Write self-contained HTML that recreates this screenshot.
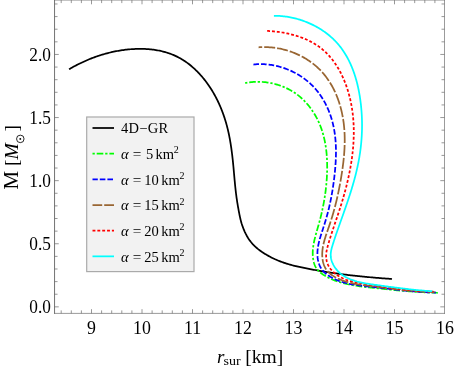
<!DOCTYPE html>
<html><head><meta charset="utf-8"><title>plot</title>
<style>html,body{margin:0;padding:0;background:#fff;}svg{display:block;}text{font-family:"Liberation Serif",serif;fill:#000;}</style></head><body>
<svg width="454" height="369" viewBox="0 0 454 369" style="will-change:transform">
<rect width="454" height="369" fill="#ffffff"/>
<g fill="none" stroke-width="1.75" stroke-linejoin="round">
<path d="M69.06,69.27 L70.11,68.65 L71.18,68.04 L72.25,67.44 L73.32,66.85 L74.40,66.27 L75.49,65.69 L76.58,65.13 L77.67,64.57 L78.77,64.03 L79.86,63.49 L80.96,62.96 L82.06,62.44 L83.16,61.93 L84.25,61.43 L85.35,60.94 L86.45,60.45 L87.56,59.98 L88.66,59.51 L89.77,59.05 L90.88,58.61 L92.00,58.17 L93.12,57.74 L94.24,57.32 L95.36,56.91 L96.49,56.51 L97.62,56.12 L98.76,55.74 L99.89,55.37 L101.03,55.01 L102.18,54.66 L103.33,54.32 L104.48,53.99 L105.63,53.67 L106.79,53.36 L107.95,53.06 L109.11,52.77 L110.28,52.49 L111.45,52.21 L112.62,51.95 L113.79,51.70 L114.97,51.45 L116.15,51.22 L117.33,51.00 L118.52,50.78 L119.70,50.58 L120.89,50.39 L122.09,50.21 L123.28,50.04 L124.48,49.88 L125.68,49.73 L126.88,49.60 L128.08,49.47 L129.29,49.36 L130.49,49.25 L131.70,49.16 L132.91,49.08 L134.13,49.02 L135.34,48.96 L136.56,48.92 L137.77,48.89 L138.99,48.88 L140.21,48.87 L141.43,48.88 L142.65,48.90 L143.87,48.94 L145.08,48.98 L146.30,49.05 L147.52,49.12 L148.73,49.21 L149.94,49.32 L151.15,49.44 L152.36,49.57 L153.56,49.73 L154.76,49.89 L155.95,50.08 L157.14,50.28 L158.33,50.49 L159.51,50.73 L160.69,50.98 L161.86,51.25 L163.03,51.54 L164.19,51.84 L165.34,52.16 L166.49,52.50 L167.63,52.86 L168.76,53.23 L169.89,53.63 L171.00,54.04 L172.11,54.46 L173.21,54.91 L174.30,55.38 L175.38,55.86 L176.45,56.37 L177.52,56.89 L178.57,57.43 L179.61,57.99 L180.64,58.57 L181.66,59.16 L182.67,59.78 L183.67,60.41 L184.65,61.06 L185.63,61.72 L186.60,62.40 L187.56,63.10 L188.51,63.82 L189.45,64.54 L190.37,65.29 L191.29,66.04 L192.20,66.81 L193.10,67.60 L193.99,68.40 L194.86,69.21 L195.73,70.03 L196.59,70.87 L197.44,71.72 L198.27,72.58 L199.10,73.45 L199.92,74.33 L200.72,75.23 L201.52,76.13 L202.31,77.05 L203.08,77.97 L203.85,78.91 L204.60,79.86 L205.34,80.81 L206.08,81.78 L206.80,82.75 L207.51,83.73 L208.21,84.73 L208.91,85.72 L209.59,86.73 L210.26,87.75 L210.92,88.77 L211.57,89.80 L212.20,90.83 L212.83,91.88 L213.45,92.92 L214.05,93.98 L214.65,95.04 L215.23,96.10 L215.81,97.17 L216.37,98.25 L216.92,99.33 L217.46,100.41 L217.99,101.50 L218.51,102.59 L219.02,103.69 L219.51,104.79 L220.00,105.89 L220.47,107.00 L220.94,108.11 L221.39,109.22 L221.84,110.34 L222.27,111.46 L222.69,112.58 L223.10,113.71 L223.51,114.84 L223.90,115.97 L224.28,117.11 L224.66,118.25 L225.02,119.39 L225.37,120.54 L225.72,121.68 L226.05,122.83 L226.38,123.99 L226.70,125.14 L227.01,126.30 L227.31,127.46 L227.60,128.62 L227.88,129.79 L228.16,130.96 L228.42,132.13 L228.68,133.30 L228.93,134.47 L229.17,135.65 L229.40,136.83 L229.63,138.01 L229.85,139.19 L230.06,140.37 L230.27,141.56 L230.46,142.74 L230.66,143.93 L230.84,145.12 L231.02,146.31 L231.20,147.50 L231.37,148.70 L231.53,149.89 L231.69,151.09 L231.85,152.29 L232.00,153.49 L232.15,154.69 L232.29,155.89 L232.43,157.09 L232.57,158.29 L232.70,159.50 L232.83,160.70 L232.95,161.90 L233.07,163.11 L233.19,164.32 L233.31,165.52 L233.42,166.73 L233.53,167.94 L233.64,169.14 L233.75,170.35 L233.86,171.56 L233.96,172.76 L234.07,173.97 L234.17,175.18 L234.28,176.39 L234.39,177.59 L234.50,178.80 L234.60,180.01 L234.72,181.21 L234.83,182.42 L234.95,183.63 L235.06,184.83 L235.19,186.03 L235.31,187.24 L235.44,188.44 L235.57,189.64 L235.71,190.84 L235.85,192.04 L235.99,193.24 L236.14,194.44 L236.30,195.64 L236.46,196.83 L236.62,198.02 L236.79,199.22 L236.97,200.41 L237.15,201.60 L237.34,202.79 L237.53,203.97 L237.73,205.16 L237.93,206.34 L238.14,207.52 L238.35,208.70 L238.56,209.88 L238.78,211.06 L239.00,212.23 L239.23,213.40 L239.46,214.57 L239.70,215.74 L239.94,216.90 L240.20,218.06 L240.47,219.22 L240.75,220.38 L241.05,221.53 L241.37,222.67 L241.71,223.81 L242.08,224.94 L242.46,226.06 L242.86,227.17 L243.28,228.28 L243.72,229.37 L244.18,230.46 L244.65,231.53 L245.15,232.60 L245.66,233.65 L246.20,234.69 L246.75,235.71 L247.33,236.72 L247.93,237.72 L248.55,238.70 L249.21,239.67 L249.88,240.63 L250.59,241.57 L251.33,242.50 L252.11,243.42 L252.92,244.32 L253.76,245.21 L254.65,246.08 L255.56,246.94 L256.52,247.78 L257.50,248.61 L258.51,249.42 L259.55,250.21 L260.62,250.99 L261.70,251.75 L262.80,252.48 L263.91,253.20 L265.03,253.90 L266.16,254.58 L267.29,255.24 L268.42,255.88 L269.55,256.50 L270.67,257.10 L271.80,257.67 L272.92,258.23 L274.04,258.76 L275.15,259.28 L276.27,259.77 L277.39,260.25 L278.50,260.72 L279.62,261.17 L280.75,261.60 L281.88,262.02 L283.01,262.42 L284.15,262.82 L285.29,263.20 L286.44,263.57 L287.59,263.93 L288.75,264.27 L289.92,264.61 L291.08,264.94 L292.26,265.25 L293.43,265.56 L294.61,265.86 L295.80,266.15 L296.98,266.43 L298.17,266.70 L299.36,266.97 L300.55,267.22 L301.75,267.48 L302.95,267.72 L304.15,267.97 L305.34,268.20 L306.55,268.44 L307.75,268.67 L308.95,268.90 L310.15,269.12 L311.35,269.35 L312.55,269.57 L313.76,269.79 L314.96,270.01 L316.16,270.22 L317.36,270.44 L318.56,270.65 L319.76,270.86 L320.96,271.07 L322.16,271.27 L323.35,271.47 L324.55,271.67 L325.75,271.86 L326.94,272.05 L328.14,272.24 L329.34,272.43 L330.53,272.61 L331.73,272.79 L332.92,272.97 L334.11,273.14 L335.31,273.31 L336.50,273.48 L337.70,273.64 L338.89,273.81 L340.08,273.97 L341.28,274.12 L342.47,274.28 L343.66,274.43 L344.86,274.58 L346.05,274.73 L347.25,274.87 L348.44,275.02 L349.64,275.16 L350.83,275.30 L352.03,275.43 L353.23,275.57 L354.42,275.70 L355.62,275.83 L356.82,275.96 L358.02,276.08 L359.22,276.21 L360.42,276.33 L361.62,276.45 L362.82,276.57 L364.02,276.69 L365.23,276.80 L366.43,276.92 L367.64,277.03 L368.85,277.14 L370.05,277.25 L371.26,277.35 L372.47,277.46 L373.68,277.57 L374.90,277.67 L376.11,277.77 L377.33,277.87 L378.54,277.97 L379.76,278.07 L380.98,278.17 L382.20,278.27 L383.43,278.36 L384.65,278.46 L385.88,278.55 L387.10,278.64 L388.33,278.73 L389.56,278.82 L390.79,278.91 L392.02,279.00" stroke="#000000"/>
<path d="M245.07,83.00 L246.23,82.78 L247.39,82.58 L248.56,82.41 L249.74,82.26 L250.92,82.12 L252.11,82.02 L253.30,81.93 L254.50,81.86 L255.70,81.82 L256.90,81.80 L258.10,81.79 L259.30,81.82 L260.51,81.86 L261.71,81.92 L262.92,82.00 L264.13,82.11 L265.33,82.24 L266.53,82.39 L267.74,82.55 L268.93,82.74 L270.13,82.96 L271.32,83.19 L272.51,83.44 L273.70,83.72 L274.88,84.01 L276.05,84.33 L277.22,84.66 L278.38,85.02 L279.53,85.40 L280.68,85.79 L281.82,86.21 L282.95,86.65 L284.07,87.11 L285.19,87.59 L286.29,88.09 L287.38,88.61 L288.46,89.15 L289.53,89.71 L290.59,90.29 L291.64,90.89 L292.67,91.51 L293.69,92.15 L294.69,92.81 L295.68,93.50 L296.66,94.20 L297.62,94.91 L298.57,95.65 L299.50,96.41 L300.42,97.18 L301.32,97.97 L302.21,98.78 L303.08,99.61 L303.94,100.45 L304.78,101.30 L305.60,102.17 L306.41,103.06 L307.21,103.96 L307.99,104.88 L308.75,105.81 L309.50,106.75 L310.23,107.70 L310.95,108.67 L311.65,109.65 L312.33,110.64 L313.00,111.64 L313.65,112.66 L314.29,113.68 L314.91,114.71 L315.51,115.76 L316.10,116.81 L316.67,117.87 L317.22,118.94 L317.75,120.01 L318.27,121.10 L318.77,122.19 L319.26,123.29 L319.73,124.39 L320.18,125.50 L320.61,126.62 L321.03,127.74 L321.43,128.87 L321.82,130.00 L322.19,131.14 L322.55,132.29 L322.89,133.43 L323.22,134.59 L323.53,135.75 L323.83,136.91 L324.11,138.08 L324.38,139.25 L324.63,140.42 L324.87,141.60 L325.10,142.78 L325.32,143.97 L325.52,145.16 L325.71,146.35 L325.88,147.54 L326.05,148.74 L326.20,149.94 L326.34,151.14 L326.47,152.34 L326.58,153.54 L326.69,154.75 L326.78,155.96 L326.87,157.17 L326.94,158.38 L327.00,159.59 L327.06,160.80 L327.10,162.01 L327.13,163.22 L327.15,164.44 L327.17,165.65 L327.17,166.86 L327.17,168.07 L327.15,169.28 L327.13,170.49 L327.10,171.70 L327.06,172.91 L327.02,174.12 L326.97,175.32 L326.90,176.53 L326.84,177.73 L326.76,178.93 L326.68,180.13 L326.59,181.32 L326.49,182.52 L326.39,183.71 L326.28,184.90 L326.16,186.09 L326.03,187.28 L325.90,188.46 L325.76,189.65 L325.62,190.83 L325.47,192.02 L325.31,193.20 L325.14,194.38 L324.97,195.56 L324.79,196.74 L324.60,197.92 L324.41,199.10 L324.21,200.27 L324.01,201.45 L323.79,202.62 L323.57,203.80 L323.35,204.97 L323.12,206.15 L322.88,207.32 L322.64,208.50 L322.38,209.67 L322.13,210.84 L321.86,212.01 L321.59,213.19 L321.32,214.36 L321.04,215.53 L320.75,216.71 L320.46,217.88 L320.16,219.06 L319.85,220.23 L319.54,221.40 L319.22,222.58 L318.89,223.76 L318.57,224.93 L318.23,226.11 L317.89,227.29 L317.55,228.47 L317.21,229.64 L316.87,230.82 L316.53,232.00 L316.20,233.18 L315.87,234.36 L315.55,235.55 L315.24,236.73 L314.94,237.91 L314.65,239.09 L314.37,240.27 L314.12,241.45 L313.87,242.64 L313.65,243.82 L313.45,245.00 L313.27,246.19 L313.11,247.37 L312.98,248.55 L312.87,249.73 L312.79,250.92 L312.75,252.10 L312.73,253.28 L312.75,254.46 L312.80,255.64 L312.89,256.83 L313.02,258.01 L313.18,259.19 L313.39,260.37 L313.64,261.55 L313.94,262.72 L314.29,263.87 L314.70,265.00 L315.17,266.10 L315.70,267.17 L316.31,268.19 L317.00,269.15 L317.75,270.07 L318.57,270.94 L319.45,271.77 L320.37,272.55 L321.32,273.30 L322.31,274.02 L323.32,274.70 L324.35,275.36 L325.39,275.99 L326.43,276.59 L327.49,277.18 L328.55,277.74 L329.63,278.27 L330.71,278.79 L331.80,279.28 L332.90,279.75 L334.01,280.20 L335.12,280.63 L336.24,281.04 L337.37,281.44 L338.51,281.81 L339.65,282.17 L340.80,282.52 L341.95,282.84 L343.11,283.15 L344.28,283.45 L345.45,283.73 L346.62,284.00 L347.80,284.26 L348.98,284.50 L350.17,284.73 L351.36,284.96 L352.55,285.17 L353.75,285.37 L354.95,285.56 L356.15,285.75 L357.35,285.93 L358.56,286.10 L359.77,286.26 L360.97,286.42 L362.18,286.57 L363.39,286.72 L364.60,286.86 L365.81,287.01 L367.02,287.14 L368.23,287.28 L369.44,287.42 L370.64,287.55 L371.85,287.68 L373.05,287.82 L374.26,287.95 L375.46,288.08 L376.66,288.21 L377.86,288.35 L379.06,288.48 L380.26,288.61 L381.45,288.73 L382.65,288.86 L383.85,288.99 L385.04,289.11 L386.24,289.24 L387.43,289.36 L388.62,289.48 L389.82,289.61 L391.01,289.72 L392.20,289.84 L393.39,289.96 L394.59,290.08 L395.78,290.19 L396.97,290.30 L398.16,290.41 L399.35,290.52 L400.54,290.63 L401.73,290.73 L402.93,290.84 L404.12,290.94 L405.31,291.04 L406.50,291.13 L407.70,291.23 L408.89,291.32 L410.09,291.41 L411.28,291.50 L412.48,291.59 L413.67,291.67 L414.87,291.76 L416.07,291.83 L417.27,291.91 L418.47,291.99 L419.67,292.06 L420.87,292.13 L422.07,292.19 L423.27,292.25 L424.48,292.31 L425.69,292.37 L426.89,292.43 L428.10,292.48 L429.31,292.53 L430.53,292.57 L431.74,292.61 L432.95,292.65 L434.17,292.69 L435.39,292.72 L436.61,292.75 L437.83,292.77" stroke="#00ff00" stroke-dasharray="2.3 1.9 6.6 1.9" stroke-dashoffset="0"/>
<path d="M253.43,64.53 L254.62,64.41 L255.81,64.31 L257.00,64.24 L258.20,64.18 L259.39,64.15 L260.59,64.14 L261.79,64.15 L262.99,64.18 L264.19,64.23 L265.39,64.31 L266.59,64.40 L267.79,64.52 L268.98,64.65 L270.18,64.80 L271.37,64.98 L272.56,65.17 L273.75,65.39 L274.93,65.62 L276.12,65.88 L277.29,66.15 L278.47,66.44 L279.64,66.75 L280.80,67.08 L281.96,67.43 L283.12,67.80 L284.27,68.19 L285.41,68.59 L286.55,69.02 L287.68,69.46 L288.80,69.92 L289.91,70.39 L291.02,70.89 L292.12,71.40 L293.21,71.93 L294.30,72.48 L295.37,73.04 L296.43,73.62 L297.49,74.22 L298.53,74.84 L299.56,75.47 L300.59,76.12 L301.60,76.78 L302.60,77.46 L303.58,78.16 L304.56,78.87 L305.52,79.60 L306.47,80.34 L307.41,81.10 L308.33,81.88 L309.24,82.67 L310.14,83.47 L311.02,84.29 L311.88,85.13 L312.73,85.98 L313.57,86.84 L314.39,87.72 L315.19,88.61 L315.98,89.52 L316.75,90.44 L317.50,91.37 L318.24,92.31 L318.97,93.27 L319.67,94.24 L320.37,95.22 L321.04,96.22 L321.70,97.22 L322.35,98.23 L322.98,99.26 L323.59,100.30 L324.19,101.34 L324.77,102.39 L325.34,103.46 L325.89,104.53 L326.42,105.61 L326.94,106.70 L327.45,107.80 L327.94,108.90 L328.41,110.01 L328.87,111.13 L329.31,112.26 L329.74,113.39 L330.15,114.52 L330.55,115.66 L330.93,116.81 L331.30,117.96 L331.65,119.12 L331.99,120.28 L332.31,121.44 L332.62,122.61 L332.91,123.78 L333.18,124.96 L333.44,126.13 L333.69,127.31 L333.92,128.50 L334.14,129.68 L334.35,130.87 L334.54,132.06 L334.72,133.25 L334.88,134.44 L335.04,135.64 L335.18,136.83 L335.30,138.03 L335.42,139.23 L335.52,140.43 L335.62,141.64 L335.70,142.84 L335.77,144.05 L335.83,145.25 L335.87,146.46 L335.91,147.67 L335.94,148.88 L335.96,150.09 L335.97,151.30 L335.97,152.51 L335.96,153.72 L335.94,154.93 L335.91,156.14 L335.88,157.35 L335.83,158.56 L335.78,159.77 L335.72,160.98 L335.66,162.19 L335.58,163.40 L335.50,164.61 L335.42,165.81 L335.32,167.02 L335.22,168.22 L335.12,169.43 L335.01,170.63 L334.89,171.83 L334.77,173.03 L334.64,174.23 L334.51,175.42 L334.38,176.62 L334.24,177.81 L334.09,179.00 L333.94,180.19 L333.79,181.37 L333.63,182.56 L333.47,183.74 L333.30,184.92 L333.13,186.10 L332.96,187.28 L332.78,188.46 L332.59,189.64 L332.40,190.81 L332.20,191.98 L332.00,193.16 L331.79,194.33 L331.58,195.50 L331.36,196.67 L331.14,197.84 L330.91,199.01 L330.68,200.18 L330.44,201.35 L330.19,202.52 L329.94,203.68 L329.68,204.85 L329.42,206.02 L329.15,207.18 L328.87,208.35 L328.59,209.52 L328.30,210.68 L328.01,211.85 L327.71,213.02 L327.40,214.19 L327.08,215.35 L326.76,216.52 L326.43,217.69 L326.10,218.86 L325.75,220.03 L325.40,221.20 L325.05,222.37 L324.68,223.55 L324.31,224.72 L323.93,225.90 L323.55,227.07 L323.16,228.25 L322.77,229.43 L322.39,230.61 L322.00,231.78 L321.62,232.96 L321.24,234.14 L320.87,235.32 L320.51,236.50 L320.16,237.68 L319.82,238.86 L319.50,240.04 L319.19,241.22 L318.90,242.40 L318.63,243.58 L318.39,244.76 L318.16,245.93 L317.97,247.11 L317.80,248.29 L317.65,249.46 L317.54,250.63 L317.46,251.80 L317.42,252.98 L317.41,254.14 L317.44,255.31 L317.51,256.48 L317.62,257.64 L317.77,258.81 L317.97,259.97 L318.22,261.12 L318.51,262.28 L318.85,263.42 L319.25,264.54 L319.70,265.65 L320.21,266.73 L320.77,267.77 L321.40,268.78 L322.08,269.75 L322.82,270.68 L323.62,271.57 L324.47,272.42 L325.35,273.22 L326.28,274.00 L327.24,274.73 L328.23,275.43 L329.24,276.10 L330.27,276.74 L331.31,277.35 L332.37,277.93 L333.43,278.48 L334.51,279.01 L335.60,279.51 L336.70,279.98 L337.80,280.43 L338.92,280.86 L340.05,281.26 L341.18,281.65 L342.33,282.01 L343.48,282.35 L344.64,282.67 L345.80,282.98 L346.98,283.27 L348.16,283.54 L349.34,283.80 L350.53,284.04 L351.72,284.27 L352.92,284.48 L354.12,284.69 L355.33,284.88 L356.54,285.06 L357.75,285.24 L358.96,285.41 L360.18,285.57 L361.40,285.72 L362.61,285.87 L363.83,286.01 L365.05,286.15 L366.27,286.28 L367.48,286.42 L368.70,286.55 L369.91,286.69 L371.12,286.82 L372.33,286.96 L373.54,287.09 L374.74,287.23 L375.95,287.36 L377.15,287.50 L378.35,287.64 L379.55,287.78 L380.74,287.92 L381.94,288.06 L383.13,288.19 L384.33,288.33 L385.52,288.47 L386.71,288.61 L387.90,288.74 L389.09,288.88 L390.28,289.02 L391.46,289.15 L392.65,289.28 L393.84,289.42 L395.02,289.55 L396.21,289.68 L397.40,289.81 L398.58,289.93 L399.77,290.06 L400.95,290.18 L402.14,290.31 L403.33,290.43 L404.51,290.54 L405.70,290.66 L406.89,290.77 L408.08,290.89 L409.27,290.99 L410.46,291.10 L411.65,291.20 L412.85,291.30 L414.04,291.40 L415.24,291.50 L416.43,291.59 L417.63,291.68 L418.83,291.76 L420.03,291.85 L421.24,291.92 L422.44,292.00 L423.65,292.07 L424.86,292.14 L426.07,292.20 L427.28,292.26 L428.50,292.31 L429.72,292.36 L430.94,292.41 L432.16,292.45 L433.39,292.49 L434.62,292.52 L435.85,292.55" stroke="#0000ff" stroke-dasharray="5.6 2" stroke-dashoffset="0"/>
<path d="M258.60,47.32 L259.80,47.24 L261.00,47.18 L262.20,47.13 L263.40,47.11 L264.60,47.10 L265.81,47.11 L267.01,47.15 L268.22,47.20 L269.42,47.27 L270.63,47.36 L271.83,47.46 L273.03,47.59 L274.23,47.73 L275.43,47.90 L276.63,48.08 L277.82,48.28 L279.02,48.49 L280.21,48.73 L281.39,48.98 L282.57,49.25 L283.75,49.54 L284.92,49.84 L286.09,50.17 L287.26,50.51 L288.42,50.86 L289.57,51.24 L290.72,51.63 L291.86,52.04 L293.00,52.47 L294.13,52.91 L295.25,53.37 L296.36,53.84 L297.47,54.34 L298.57,54.84 L299.66,55.37 L300.74,55.91 L301.81,56.47 L302.88,57.04 L303.93,57.63 L304.98,58.23 L306.01,58.85 L307.04,59.49 L308.05,60.14 L309.05,60.81 L310.04,61.49 L311.02,62.19 L311.99,62.90 L312.95,63.63 L313.89,64.37 L314.82,65.13 L315.73,65.90 L316.64,66.69 L317.53,67.49 L318.40,68.30 L319.26,69.13 L320.11,69.98 L320.94,70.84 L321.76,71.71 L322.56,72.59 L323.34,73.49 L324.11,74.41 L324.86,75.33 L325.60,76.27 L326.32,77.22 L327.03,78.19 L327.73,79.16 L328.40,80.15 L329.07,81.15 L329.71,82.16 L330.35,83.18 L330.97,84.21 L331.57,85.24 L332.16,86.29 L332.73,87.35 L333.29,88.42 L333.84,89.50 L334.37,90.58 L334.89,91.68 L335.39,92.78 L335.88,93.89 L336.35,95.00 L336.82,96.12 L337.26,97.25 L337.69,98.39 L338.11,99.53 L338.52,100.68 L338.91,101.83 L339.29,102.99 L339.65,104.16 L340.00,105.32 L340.34,106.50 L340.67,107.67 L340.98,108.85 L341.27,110.04 L341.56,111.22 L341.83,112.41 L342.09,113.60 L342.33,114.80 L342.57,115.99 L342.79,117.19 L342.99,118.39 L343.19,119.59 L343.37,120.79 L343.54,121.99 L343.70,123.19 L343.84,124.39 L343.98,125.59 L344.10,126.79 L344.21,128.00 L344.31,129.20 L344.39,130.40 L344.47,131.60 L344.54,132.81 L344.59,134.01 L344.64,135.21 L344.67,136.41 L344.69,137.62 L344.71,138.82 L344.71,140.02 L344.71,141.22 L344.70,142.42 L344.68,143.63 L344.64,144.83 L344.60,146.03 L344.56,147.23 L344.50,148.43 L344.44,149.63 L344.36,150.83 L344.29,152.03 L344.20,153.23 L344.10,154.43 L344.00,155.63 L343.89,156.82 L343.78,158.02 L343.66,159.22 L343.53,160.41 L343.40,161.61 L343.26,162.80 L343.11,164.00 L342.96,165.19 L342.81,166.38 L342.65,167.57 L342.48,168.76 L342.31,169.95 L342.14,171.14 L341.96,172.33 L341.78,173.51 L341.59,174.70 L341.40,175.88 L341.21,177.07 L341.01,178.25 L340.81,179.43 L340.61,180.61 L340.40,181.79 L340.19,182.97 L339.97,184.15 L339.75,185.32 L339.53,186.50 L339.30,187.67 L339.07,188.85 L338.84,190.02 L338.60,191.19 L338.35,192.37 L338.10,193.54 L337.85,194.71 L337.60,195.88 L337.33,197.05 L337.07,198.22 L336.80,199.39 L336.52,200.56 L336.24,201.72 L335.95,202.89 L335.66,204.06 L335.37,205.22 L335.07,206.39 L334.76,207.56 L334.45,208.72 L334.13,209.89 L333.81,211.06 L333.48,212.22 L333.15,213.39 L332.81,214.55 L332.46,215.72 L332.11,216.88 L331.75,218.05 L331.39,219.21 L331.02,220.38 L330.64,221.55 L330.26,222.71 L329.87,223.88 L329.48,225.05 L329.08,226.21 L328.68,227.38 L328.27,228.55 L327.86,229.72 L327.46,230.88 L327.06,232.05 L326.66,233.22 L326.27,234.39 L325.88,235.56 L325.51,236.73 L325.15,237.89 L324.80,239.06 L324.46,240.23 L324.14,241.40 L323.84,242.57 L323.56,243.74 L323.30,244.91 L323.07,246.08 L322.86,247.25 L322.67,248.42 L322.52,249.58 L322.39,250.75 L322.30,251.92 L322.24,253.09 L322.21,254.26 L322.23,255.43 L322.28,256.60 L322.37,257.77 L322.50,258.93 L322.67,260.10 L322.90,261.27 L323.17,262.43 L323.48,263.58 L323.86,264.72 L324.28,265.83 L324.77,266.92 L325.31,267.98 L325.91,269.00 L326.58,269.98 L327.32,270.91 L328.11,271.80 L328.96,272.64 L329.85,273.45 L330.79,274.21 L331.76,274.94 L332.77,275.63 L333.80,276.28 L334.85,276.90 L335.91,277.49 L336.98,278.06 L338.06,278.59 L339.16,279.09 L340.26,279.57 L341.38,280.02 L342.50,280.45 L343.63,280.85 L344.77,281.24 L345.92,281.60 L347.07,281.94 L348.24,282.26 L349.41,282.56 L350.58,282.84 L351.76,283.11 L352.95,283.36 L354.14,283.60 L355.33,283.83 L356.53,284.04 L357.73,284.25 L358.93,284.44 L360.14,284.62 L361.35,284.80 L362.56,284.97 L363.77,285.13 L364.98,285.29 L366.19,285.45 L367.40,285.60 L368.61,285.75 L369.82,285.90 L371.03,286.05 L372.23,286.21 L373.44,286.36 L374.64,286.51 L375.84,286.67 L377.04,286.82 L378.23,286.97 L379.43,287.13 L380.63,287.28 L381.82,287.44 L383.01,287.59 L384.21,287.74 L385.40,287.90 L386.59,288.05 L387.78,288.20 L388.97,288.35 L390.16,288.50 L391.35,288.64 L392.53,288.79 L393.72,288.93 L394.91,289.08 L396.10,289.22 L397.28,289.36 L398.47,289.49 L399.66,289.63 L400.85,289.76 L402.04,289.89 L403.23,290.02 L404.41,290.15 L405.60,290.27 L406.79,290.39 L407.99,290.51 L409.18,290.62 L410.37,290.73 L411.56,290.84 L412.76,290.94 L413.96,291.04 L415.15,291.14 L416.35,291.23 L417.55,291.32 L418.75,291.40 L419.96,291.48 L421.16,291.56 L422.37,291.63 L423.58,291.70 L424.79,291.76 L426.00,291.81 L427.21,291.87 L428.43,291.91 L429.65,291.95 L430.87,291.99 L432.09,292.02 L433.32,292.05 L434.54,292.06" stroke="#996633" stroke-dasharray="11 2" stroke-dashoffset="7.4"/>
<path d="M267.15,30.94 L268.27,30.99 L269.40,31.06 L270.55,31.13 L271.69,31.21 L272.85,31.31 L274.01,31.42 L275.18,31.54 L276.35,31.67 L277.53,31.81 L278.72,31.97 L279.90,32.13 L281.09,32.31 L282.29,32.51 L283.48,32.71 L284.68,32.93 L285.87,33.17 L287.07,33.41 L288.27,33.67 L289.47,33.95 L290.66,34.23 L291.86,34.53 L293.05,34.85 L294.24,35.18 L295.42,35.52 L296.60,35.88 L297.78,36.26 L298.95,36.65 L300.12,37.05 L301.28,37.47 L302.43,37.90 L303.58,38.35 L304.72,38.82 L305.85,39.30 L306.97,39.80 L308.08,40.31 L309.19,40.84 L310.28,41.39 L311.36,41.95 L312.43,42.53 L313.48,43.13 L314.53,43.75 L315.56,44.38 L316.58,45.03 L317.58,45.69 L318.57,46.38 L319.54,47.08 L320.49,47.80 L321.43,48.54 L322.36,49.29 L323.27,50.07 L324.16,50.86 L325.04,51.66 L325.90,52.48 L326.75,53.32 L327.58,54.17 L328.40,55.03 L329.20,55.91 L329.99,56.81 L330.77,57.72 L331.52,58.64 L332.27,59.57 L333.00,60.52 L333.71,61.48 L334.41,62.45 L335.10,63.43 L335.77,64.43 L336.43,65.43 L337.07,66.45 L337.70,67.48 L338.32,68.51 L338.92,69.56 L339.51,70.61 L340.09,71.67 L340.65,72.75 L341.20,73.83 L341.74,74.91 L342.26,76.01 L342.77,77.11 L343.27,78.22 L343.75,79.33 L344.23,80.45 L344.68,81.58 L345.13,82.71 L345.57,83.85 L345.99,84.99 L346.40,86.14 L346.79,87.28 L347.18,88.44 L347.55,89.59 L347.91,90.75 L348.26,91.91 L348.60,93.08 L348.93,94.24 L349.24,95.41 L349.55,96.58 L349.84,97.75 L350.12,98.92 L350.39,100.10 L350.65,101.27 L350.89,102.45 L351.13,103.63 L351.36,104.81 L351.57,105.99 L351.78,107.17 L351.97,108.36 L352.15,109.54 L352.33,110.73 L352.49,111.92 L352.64,113.11 L352.78,114.30 L352.92,115.49 L353.04,116.69 L353.15,117.88 L353.26,119.08 L353.35,120.27 L353.43,121.47 L353.51,122.67 L353.58,123.87 L353.63,125.06 L353.68,126.26 L353.72,127.47 L353.75,128.67 L353.77,129.87 L353.78,131.07 L353.78,132.27 L353.77,133.48 L353.76,134.68 L353.74,135.89 L353.71,137.09 L353.67,138.29 L353.62,139.50 L353.56,140.70 L353.50,141.91 L353.43,143.12 L353.35,144.32 L353.26,145.53 L353.17,146.73 L353.07,147.94 L352.96,149.14 L352.84,150.35 L352.72,151.55 L352.58,152.76 L352.45,153.96 L352.30,155.16 L352.15,156.37 L351.99,157.57 L351.82,158.77 L351.65,159.97 L351.47,161.17 L351.29,162.37 L351.10,163.57 L350.90,164.77 L350.70,165.97 L350.49,167.17 L350.27,168.37 L350.05,169.56 L349.82,170.76 L349.59,171.95 L349.35,173.14 L349.11,174.33 L348.86,175.53 L348.60,176.71 L348.34,177.90 L348.08,179.09 L347.81,180.28 L347.53,181.46 L347.25,182.64 L346.97,183.82 L346.68,185.00 L346.38,186.18 L346.08,187.36 L345.78,188.53 L345.47,189.71 L345.16,190.88 L344.85,192.05 L344.53,193.22 L344.20,194.38 L343.87,195.55 L343.54,196.71 L343.21,197.87 L342.87,199.03 L342.53,200.19 L342.18,201.34 L341.83,202.49 L341.48,203.64 L341.13,204.79 L340.77,205.94 L340.41,207.08 L340.04,208.22 L339.68,209.36 L339.31,210.49 L338.93,211.63 L338.56,212.76 L338.18,213.89 L337.81,215.02 L337.43,216.15 L337.05,217.27 L336.67,218.40 L336.28,219.53 L335.90,220.65 L335.52,221.78 L335.13,222.91 L334.75,224.03 L334.37,225.16 L333.98,226.29 L333.60,227.43 L333.22,228.56 L332.84,229.69 L332.46,230.83 L332.08,231.97 L331.71,233.12 L331.34,234.26 L330.97,235.41 L330.60,236.56 L330.23,237.72 L329.87,238.88 L329.51,240.05 L329.15,241.22 L328.80,242.39 L328.45,243.57 L328.11,244.76 L327.77,245.95 L327.45,247.15 L327.15,248.35 L326.88,249.55 L326.64,250.75 L326.43,251.96 L326.28,253.17 L326.17,254.37 L326.12,255.58 L326.13,256.79 L326.21,257.99 L326.34,259.18 L326.54,260.35 L326.81,261.52 L327.15,262.66 L327.55,263.78 L328.03,264.87 L328.57,265.94 L329.18,266.97 L329.85,267.98 L330.58,268.95 L331.35,269.88 L332.17,270.78 L333.02,271.65 L333.89,272.48 L334.79,273.27 L335.72,274.02 L336.66,274.74 L337.63,275.42 L338.61,276.07 L339.62,276.68 L340.64,277.26 L341.69,277.81 L342.74,278.33 L343.82,278.81 L344.91,279.27 L346.01,279.70 L347.13,280.10 L348.26,280.47 L349.40,280.82 L350.55,281.15 L351.72,281.46 L352.89,281.75 L354.07,282.02 L355.26,282.28 L356.46,282.53 L357.66,282.77 L358.87,283.00 L360.08,283.21 L361.29,283.43 L362.51,283.63 L363.73,283.83 L364.95,284.03 L366.18,284.22 L367.40,284.41 L368.62,284.59 L369.84,284.78 L371.05,284.96 L372.27,285.15 L373.47,285.33 L374.68,285.52 L375.89,285.70 L377.09,285.88 L378.29,286.06 L379.48,286.24 L380.68,286.42 L381.87,286.60 L383.06,286.77 L384.25,286.94 L385.44,287.11 L386.63,287.28 L387.81,287.45 L389.00,287.61 L390.18,287.77 L391.37,287.93 L392.55,288.09 L393.73,288.24 L394.91,288.40 L396.09,288.55 L397.28,288.70 L398.46,288.84 L399.64,288.98 L400.82,289.12 L402.00,289.26 L403.19,289.40 L404.37,289.53 L405.55,289.66 L406.74,289.78 L407.93,289.91 L409.11,290.03 L410.30,290.15 L411.50,290.26 L412.69,290.37 L413.88,290.48 L415.08,290.58 L416.28,290.68 L417.48,290.77 L418.68,290.86 L419.89,290.95 L421.10,291.03 L422.31,291.11 L423.53,291.18 L424.75,291.25 L425.97,291.31 L427.19,291.37 L428.42,291.43 L429.65,291.48 L430.89,291.53 L432.13,291.57 L433.37,291.61" stroke="#ff0000" stroke-dasharray="2.9 1.95" stroke-dashoffset="0"/>
<path d="M273.90,15.86 L275.06,15.85 L276.23,15.86 L277.40,15.88 L278.57,15.92 L279.75,15.98 L280.93,16.06 L282.11,16.16 L283.29,16.27 L284.47,16.41 L285.66,16.56 L286.84,16.72 L288.02,16.91 L289.21,17.11 L290.39,17.33 L291.57,17.57 L292.75,17.82 L293.93,18.09 L295.11,18.38 L296.28,18.68 L297.46,19.00 L298.62,19.34 L299.79,19.69 L300.95,20.06 L302.11,20.44 L303.26,20.85 L304.41,21.26 L305.55,21.70 L306.69,22.14 L307.82,22.61 L308.94,23.09 L310.06,23.58 L311.17,24.09 L312.28,24.62 L313.38,25.16 L314.46,25.72 L315.54,26.29 L316.62,26.87 L317.68,27.47 L318.73,28.09 L319.78,28.71 L320.81,29.36 L321.83,30.01 L322.85,30.69 L323.85,31.37 L324.84,32.07 L325.81,32.78 L326.78,33.51 L327.73,34.25 L328.68,35.00 L329.60,35.77 L330.52,36.55 L331.42,37.34 L332.30,38.15 L333.17,38.97 L334.03,39.80 L334.87,40.64 L335.70,41.50 L336.51,42.37 L337.30,43.25 L338.08,44.14 L338.84,45.05 L339.59,45.97 L340.32,46.89 L341.04,47.83 L341.74,48.78 L342.43,49.74 L343.10,50.72 L343.76,51.70 L344.41,52.69 L345.04,53.69 L345.65,54.70 L346.26,55.72 L346.85,56.75 L347.42,57.79 L347.98,58.83 L348.53,59.89 L349.06,60.95 L349.59,62.02 L350.09,63.10 L350.59,64.19 L351.07,65.28 L351.54,66.38 L352.00,67.49 L352.45,68.60 L352.88,69.72 L353.31,70.85 L353.72,71.98 L354.11,73.12 L354.50,74.26 L354.88,75.41 L355.24,76.56 L355.59,77.72 L355.94,78.88 L356.27,80.05 L356.59,81.22 L356.90,82.40 L357.20,83.57 L357.49,84.76 L357.76,85.94 L358.03,87.13 L358.29,88.32 L358.54,89.51 L358.78,90.71 L359.01,91.91 L359.23,93.11 L359.44,94.31 L359.65,95.51 L359.84,96.72 L360.02,97.92 L360.20,99.13 L360.37,100.33 L360.53,101.54 L360.68,102.75 L360.82,103.95 L360.96,105.16 L361.08,106.36 L361.20,107.57 L361.31,108.77 L361.41,109.98 L361.51,111.18 L361.60,112.39 L361.68,113.59 L361.75,114.80 L361.81,116.00 L361.87,117.20 L361.91,118.40 L361.95,119.60 L361.99,120.81 L362.01,122.01 L362.03,123.21 L362.04,124.41 L362.04,125.61 L362.03,126.81 L362.02,128.00 L362.00,129.20 L361.97,130.40 L361.93,131.60 L361.88,132.79 L361.83,133.99 L361.77,135.19 L361.71,136.38 L361.63,137.58 L361.55,138.77 L361.46,139.96 L361.36,141.16 L361.26,142.35 L361.15,143.54 L361.03,144.73 L360.90,145.92 L360.77,147.11 L360.63,148.30 L360.48,149.49 L360.33,150.67 L360.16,151.86 L359.99,153.05 L359.82,154.23 L359.63,155.42 L359.44,156.60 L359.24,157.78 L359.04,158.97 L358.82,160.15 L358.60,161.33 L358.38,162.51 L358.14,163.69 L357.90,164.87 L357.66,166.04 L357.40,167.22 L357.14,168.40 L356.87,169.57 L356.60,170.75 L356.32,171.92 L356.04,173.09 L355.75,174.26 L355.45,175.43 L355.15,176.60 L354.84,177.77 L354.53,178.94 L354.21,180.11 L353.89,181.27 L353.56,182.44 L353.23,183.60 L352.89,184.76 L352.55,185.92 L352.21,187.08 L351.86,188.24 L351.51,189.40 L351.15,190.56 L350.79,191.71 L350.43,192.87 L350.06,194.02 L349.69,195.17 L349.32,196.32 L348.95,197.47 L348.57,198.62 L348.19,199.77 L347.81,200.91 L347.42,202.06 L347.04,203.20 L346.65,204.34 L346.26,205.48 L345.86,206.62 L345.47,207.76 L345.08,208.89 L344.68,210.03 L344.28,211.16 L343.88,212.29 L343.49,213.42 L343.09,214.55 L342.69,215.68 L342.29,216.80 L341.89,217.93 L341.48,219.05 L341.08,220.17 L340.68,221.30 L340.28,222.42 L339.88,223.54 L339.49,224.67 L339.09,225.79 L338.69,226.92 L338.29,228.04 L337.90,229.17 L337.51,230.30 L337.11,231.43 L336.72,232.56 L336.33,233.70 L335.95,234.84 L335.56,235.98 L335.18,237.12 L334.80,238.27 L334.42,239.42 L334.04,240.57 L333.67,241.73 L333.30,242.89 L332.93,244.06 L332.56,245.23 L332.21,246.41 L331.87,247.59 L331.57,248.77 L331.29,249.95 L331.06,251.13 L330.88,252.31 L330.76,253.49 L330.71,254.66 L330.74,255.83 L330.83,257.00 L331.00,258.16 L331.24,259.30 L331.55,260.44 L331.92,261.57 L332.35,262.68 L332.83,263.77 L333.38,264.85 L333.97,265.91 L334.61,266.94 L335.30,267.94 L336.03,268.92 L336.80,269.87 L337.61,270.79 L338.45,271.67 L339.32,272.51 L340.22,273.32 L341.15,274.08 L342.10,274.80 L343.07,275.48 L344.06,276.12 L345.06,276.72 L346.08,277.28 L347.11,277.81 L348.16,278.32 L349.23,278.79 L350.30,279.24 L351.39,279.67 L352.50,280.07 L353.61,280.45 L354.73,280.82 L355.87,281.16 L357.01,281.49 L358.17,281.79 L359.33,282.08 L360.49,282.36 L361.67,282.62 L362.85,282.86 L364.04,283.10 L365.23,283.32 L366.42,283.52 L367.62,283.72 L368.82,283.91 L370.03,284.10 L371.23,284.28 L372.44,284.45 L373.65,284.62 L374.85,284.79 L376.06,284.95 L377.26,285.12 L378.46,285.29 L379.66,285.45 L380.86,285.62 L382.06,285.78 L383.26,285.95 L384.45,286.11 L385.65,286.27 L386.84,286.44 L388.04,286.60 L389.23,286.76 L390.42,286.92 L391.61,287.08 L392.81,287.23 L394.00,287.39 L395.19,287.54 L396.38,287.69 L397.57,287.85 L398.76,287.99 L399.95,288.14 L401.14,288.29 L402.33,288.43 L403.52,288.58 L404.71,288.72 L405.90,288.86 L407.09,288.99 L408.29,289.13 L409.48,289.26 L410.67,289.39 L411.87,289.52 L413.06,289.65 L414.25,289.77 L415.45,289.90 L416.65,290.02 L417.84,290.14 L419.04,290.25 L420.24,290.36 L421.44,290.47 L422.65,290.58 L423.85,290.68 L425.06,290.78 L426.26,290.88 L427.47,290.97 L428.68,291.06 L429.89,291.14 L431.11,291.22 L432.32,291.30" stroke="#00ffff"/>
</g>
<path d="M61.20,313.4 v-3.0 M61.20,0.1 v3.0 M71.30,313.4 v-3.0 M71.30,0.1 v3.0 M81.40,313.4 v-3.0 M81.40,0.1 v3.0 M91.50,313.4 v-4.2 M91.50,0.1 v4.2 M101.60,313.4 v-3.0 M101.60,0.1 v3.0 M111.70,313.4 v-3.0 M111.70,0.1 v3.0 M121.80,313.4 v-3.0 M121.80,0.1 v3.0 M131.90,313.4 v-3.0 M131.90,0.1 v3.0 M142.00,313.4 v-4.2 M142.00,0.1 v4.2 M152.10,313.4 v-3.0 M152.10,0.1 v3.0 M162.20,313.4 v-3.0 M162.20,0.1 v3.0 M172.30,313.4 v-3.0 M172.30,0.1 v3.0 M182.40,313.4 v-3.0 M182.40,0.1 v3.0 M192.50,313.4 v-4.2 M192.50,0.1 v4.2 M202.60,313.4 v-3.0 M202.60,0.1 v3.0 M212.70,313.4 v-3.0 M212.70,0.1 v3.0 M222.80,313.4 v-3.0 M222.80,0.1 v3.0 M232.90,313.4 v-3.0 M232.90,0.1 v3.0 M243.00,313.4 v-4.2 M243.00,0.1 v4.2 M253.10,313.4 v-3.0 M253.10,0.1 v3.0 M263.20,313.4 v-3.0 M263.20,0.1 v3.0 M273.30,313.4 v-3.0 M273.30,0.1 v3.0 M283.40,313.4 v-3.0 M283.40,0.1 v3.0 M293.50,313.4 v-4.2 M293.50,0.1 v4.2 M303.60,313.4 v-3.0 M303.60,0.1 v3.0 M313.70,313.4 v-3.0 M313.70,0.1 v3.0 M323.80,313.4 v-3.0 M323.80,0.1 v3.0 M333.90,313.4 v-3.0 M333.90,0.1 v3.0 M344.00,313.4 v-4.2 M344.00,0.1 v4.2 M354.10,313.4 v-3.0 M354.10,0.1 v3.0 M364.20,313.4 v-3.0 M364.20,0.1 v3.0 M374.30,313.4 v-3.0 M374.30,0.1 v3.0 M384.40,313.4 v-3.0 M384.40,0.1 v3.0 M394.50,313.4 v-4.2 M394.50,0.1 v4.2 M404.60,313.4 v-3.0 M404.60,0.1 v3.0 M414.70,313.4 v-3.0 M414.70,0.1 v3.0 M424.80,313.4 v-3.0 M424.80,0.1 v3.0 M434.90,313.4 v-3.0 M434.90,0.1 v3.0 M54.55,306.85 h4.2 M444.5,306.85 h-4.2 M54.55,294.23 h3.0 M444.5,294.23 h-3.0 M54.55,281.61 h3.0 M444.5,281.61 h-3.0 M54.55,268.99 h3.0 M444.5,268.99 h-3.0 M54.55,256.37 h3.0 M444.5,256.37 h-3.0 M54.55,243.75 h4.2 M444.5,243.75 h-4.2 M54.55,231.13 h3.0 M444.5,231.13 h-3.0 M54.55,218.51 h3.0 M444.5,218.51 h-3.0 M54.55,205.89 h3.0 M444.5,205.89 h-3.0 M54.55,193.27 h3.0 M444.5,193.27 h-3.0 M54.55,180.65 h4.2 M444.5,180.65 h-4.2 M54.55,168.03 h3.0 M444.5,168.03 h-3.0 M54.55,155.41 h3.0 M444.5,155.41 h-3.0 M54.55,142.79 h3.0 M444.5,142.79 h-3.0 M54.55,130.17 h3.0 M444.5,130.17 h-3.0 M54.55,117.55 h4.2 M444.5,117.55 h-4.2 M54.55,104.93 h3.0 M444.5,104.93 h-3.0 M54.55,92.31 h3.0 M444.5,92.31 h-3.0 M54.55,79.69 h3.0 M444.5,79.69 h-3.0 M54.55,67.07 h3.0 M444.5,67.07 h-3.0 M54.55,54.45 h4.2 M444.5,54.45 h-4.2 M54.55,41.83 h3.0 M444.5,41.83 h-3.0 M54.55,29.21 h3.0 M444.5,29.21 h-3.0 M54.55,16.59 h3.0 M444.5,16.59 h-3.0 M54.55,3.97 h3.0 M444.5,3.97 h-3.0" stroke="#707070" stroke-width="0.72" fill="none"/>
<path d="M54.55,-0.9 V313.79999999999995" stroke="#666666" stroke-width="0.92" fill="none"/>
<path d="M54.05,313.4 H444.9 M444.5,313.79999999999995 V-0.9 M54.05,0.1 H444.9" stroke="#666666" stroke-width="0.66" fill="none"/>
<text transform="translate(91.5,334) scale(0.94,1)" font-size="19" text-anchor="middle">9</text>
<text transform="translate(142.0,334) scale(0.94,1)" font-size="19" text-anchor="middle">10</text>
<text transform="translate(192.5,334) scale(0.94,1)" font-size="19" text-anchor="middle">11</text>
<text transform="translate(243.0,334) scale(0.94,1)" font-size="19" text-anchor="middle">12</text>
<text transform="translate(293.5,334) scale(0.94,1)" font-size="19" text-anchor="middle">13</text>
<text transform="translate(344.0,334) scale(0.94,1)" font-size="19" text-anchor="middle">14</text>
<text transform="translate(394.5,334) scale(0.94,1)" font-size="19" text-anchor="middle">15</text>
<text transform="translate(445.0,334) scale(0.94,1)" font-size="19" text-anchor="middle">16</text>
<text transform="translate(50.9,313.2) scale(0.91,1)" font-size="19" text-anchor="end">0.0</text>
<text transform="translate(50.9,250.1) scale(0.91,1)" font-size="19" text-anchor="end">0.5</text>
<text transform="translate(50.9,187.0) scale(0.91,1)" font-size="19" text-anchor="end">1.0</text>
<text transform="translate(50.9,123.9) scale(0.91,1)" font-size="19" text-anchor="end">1.5</text>
<text transform="translate(50.9,60.8) scale(0.91,1)" font-size="19" text-anchor="end">2.0</text>
<text x="216.9" y="363" font-size="19" font-style="italic">r</text>
<text transform="translate(223.6,365) scale(1.04,1)" font-size="13.5">sur</text>
<text transform="translate(245.2,363) scale(1.03,1)" font-size="19">[km]</text>
<g transform="translate(17.5,157.0) rotate(-90)"><text x="-32.5" y="0" font-size="19.6"><tspan font-size="21">M</tspan> [<tspan font-style="italic">M</tspan></text><circle cx="18.1" cy="2.8" r="3.75" fill="none" stroke="#000" stroke-width="0.85"/><circle cx="18.1" cy="2.8" r="0.95" fill="#000"/><text x="25.5" y="0" font-size="19.6">]</text></g>
<rect x="86.7" y="117.0" width="107.3" height="154.60000000000002" fill="#f2f2f2" stroke="#aaaaaa" stroke-width="1.2"/>
<g fill="none" stroke-width="1.75">
<path d="M92.5,128.00 H114" stroke="#000000"/>
<path d="M92.5,153.67 H114" stroke="#00ff00" stroke-dasharray="2.3 1.9 6.6 1.9" stroke-dashoffset="0"/>
<path d="M92.5,179.34 H114" stroke="#0000ff" stroke-dasharray="5.6 2" stroke-dashoffset="0.3"/>
<path d="M92.5,205.01 H114" stroke="#996633" stroke-dasharray="11 2" stroke-dashoffset="1.3"/>
<path d="M92.5,230.68 H114" stroke="#ff0000" stroke-dasharray="2.9 1.95" stroke-dashoffset="0"/>
<path d="M92.5,256.35 H114" stroke="#00ffff"/>
</g>
<text x="121" y="133.2" font-size="14.5" letter-spacing="0.3">4D&#8722;GR</text>
<text x="121" y="158.9" font-size="14.5"><tspan font-style="italic">&#945;</tspan><tspan dx="4.2" textLength="8.6" lengthAdjust="spacingAndGlyphs">=</tspan><tspan dx="4.5">5</tspan><tspan dx="2.4">km</tspan><tspan font-size="10" dy="-5.5" dx="-0.3">2</tspan></text>
<text x="121" y="184.5" font-size="14.5"><tspan font-style="italic">&#945;</tspan><tspan dx="4.2" textLength="8.6" lengthAdjust="spacingAndGlyphs">=</tspan><tspan dx="2.9">10</tspan><tspan dx="2.4">km</tspan><tspan font-size="10" dy="-5.5" dx="-0.3">2</tspan></text>
<text x="121" y="210.2" font-size="14.5"><tspan font-style="italic">&#945;</tspan><tspan dx="4.2" textLength="8.6" lengthAdjust="spacingAndGlyphs">=</tspan><tspan dx="2.9">15</tspan><tspan dx="2.4">km</tspan><tspan font-size="10" dy="-5.5" dx="-0.3">2</tspan></text>
<text x="121" y="235.8" font-size="14.5"><tspan font-style="italic">&#945;</tspan><tspan dx="4.2" textLength="8.6" lengthAdjust="spacingAndGlyphs">=</tspan><tspan dx="2.9">20</tspan><tspan dx="2.4">km</tspan><tspan font-size="10" dy="-5.5" dx="-0.3">2</tspan></text>
<text x="121" y="261.5" font-size="14.5"><tspan font-style="italic">&#945;</tspan><tspan dx="4.2" textLength="8.6" lengthAdjust="spacingAndGlyphs">=</tspan><tspan dx="2.9">25</tspan><tspan dx="2.4">km</tspan><tspan font-size="10" dy="-5.5" dx="-0.3">2</tspan></text>
</svg></body></html>
